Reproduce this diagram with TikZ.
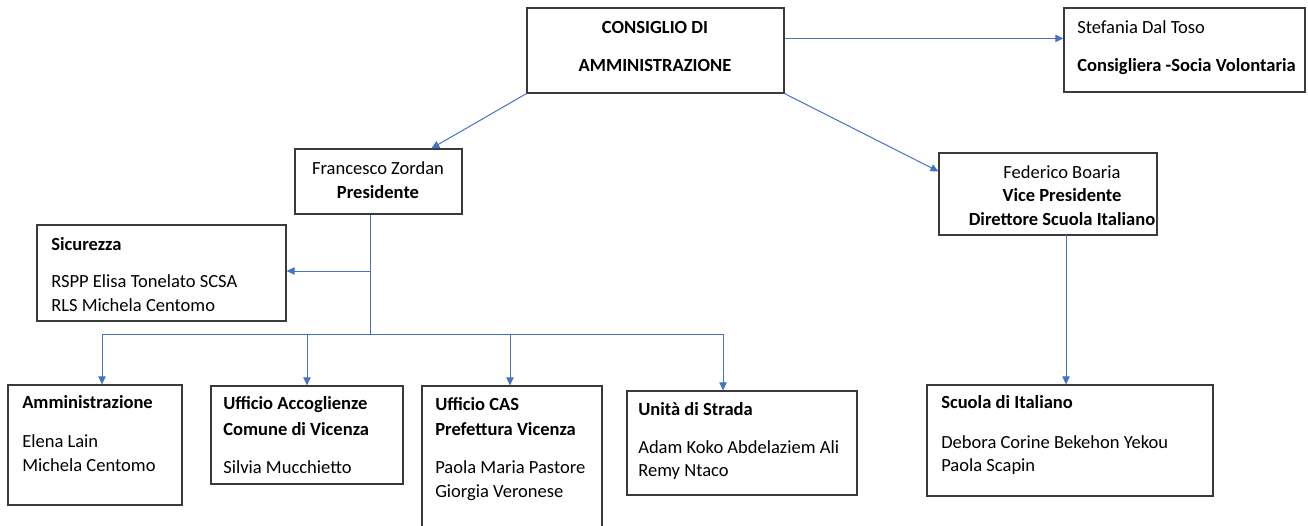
\documentclass[tikz,border=0pt]{standalone}
\usepackage{fontspec}
\setmainfont{Carlito}
\usetikzlibrary{fit,calc,arrows.meta}
\definecolor{conncol}{HTML}{4472C4}
\definecolor{boxcol}{HTML}{3A3A3A}
\begin{document}
\begin{tikzpicture}[x=0.75pt,y=-0.75pt,
  box/.style={draw=boxcol,line width=0.9pt,inner sep=0pt,fill=white},
  tl/.style={anchor=base west,inner sep=0pt,font=\fontsize{13.9pt}{16pt}\selectfont},
  tc/.style={anchor=base,inner sep=0pt,font=\fontsize{13.9pt}{16pt}\selectfont},
  conn/.style={draw=conncol,line width=0.75pt},
  arr/.style={conn,-{Triangle[length=6pt,width=5.5pt]}}]
\useasboundingbox (0,0) rectangle (1308,525);
% boxes
\node[box,fit={(527,8)(784,93)}] (cda) {};
\node[box,fit={(1064,8)(1305,92)}] (sdt) {};
\node[box,fit={(295,149)(462,214)}] (fz) {};
\node[box,fit={(939,153)(1157,235)}] (fb) {};
\node[box,fit={(37,225)(286,321)}] (sic) {};
\node[box,fit={(8,385)(182,505)}] (amm) {};
\node[box,fit={(211,386)(403,484)}] (uac) {};
\node[box,fit={(422,386)(602,530)}] (cas) {};
\node[box,fit={(627,391)(857,495)}] (uds) {};
\node[box,fit={(927,385)(1213,496)}] (sdi) {};
% texts
\node[tc] (cda1) at (655,33) {\textbf{CONSIGLIO DI}};
\node[tc] (cda2) at (655,71) {\textbf{AMMINISTRAZIONE}};
\node[tl] (sdt1) at (1077,33) {Stefania Dal Toso};
\node[tl] (sdt2) at (1077,71) {\textbf{Consigliera -Socia Volontaria}};
\node[tc] (fz1) at (378,174) {Francesco Zordan};
\node[tc] (fz2) at (378,198) {\textbf{Presidente}};
\node[tc] (fb1) at (1062,178) {Federico Boaria};
\node[tc] (fb2) at (1062,201) {\textbf{Vice Presidente}};
\node[tc] (fb3) at (1062,225) {\textbf{Direttore Scuola Italiano}};
\node[tl] (sic1) at (51,250) {\textbf{Sicurezza}};
\node[tl] (sic2) at (51,287) {RSPP Elisa Tonelato SCSA};
\node[tl] (sic3) at (51,311) {RLS Michela Centomo};
\node[tl] (amm1) at (22,408) {\textbf{Amministrazione}};
\node[tl] (amm2) at (22,447) {Elena Lain};
\node[tl] (amm3) at (22,471) {Michela Centomo};
\node[tl] (uac1) at (223,409) {\textbf{Ufficio Accoglienze}};
\node[tl] (uac2) at (223,435) {\textbf{Comune di Vicenza}};
\node[tl] (uac3) at (223,473) {Silvia Mucchietto};
\node[tl] (cas1) at (435,410) {\textbf{Ufficio CAS}};
\node[tl] (cas2) at (435,435) {\textbf{Prefettura Vicenza}};
\node[tl] (cas3) at (435,473) {Paola Maria Pastore};
\node[tl] (cas4) at (435,497) {Giorgia Veronese};
\node[tl] (uds1) at (638,415) {\textbf{Unità di Strada}};
\node[tl] (uds2) at (638,453) {Adam Koko Abdelaziem Ali};
\node[tl] (uds3) at (638,476) {Remy Ntaco};
\node[tl] (sdi1) at (941,408) {\textbf{Scuola di Italiano}};
\node[tl] (sdi2) at (941,448) {Debora Corine Bekehon Yekou};
\node[tl] (sdi3) at (941,471) {Paola Scapin};
% junction coordinates
\coordinate (jsic) at (370,271);
\coordinate (jbus) at (370,334);
\coordinate (bl) at (102,334);
\coordinate (b2) at (307,334);
\coordinate (b3) at (510,334);
\coordinate (br) at (723,334);
\coordinate (fbs) at (1066,235);
% connectors
\draw[arr] ($(cda.north east)+(0,31)$) -- ($(sdt.north west)+(0,31)$);
\draw[arr] (cda.south west) -- ($(fz.north west)+(137,0)$);
\draw[arr] (cda.south east) -- ($(fb.north west)+(0,19)$);
\draw[conn] (fz.south -| jsic) -- (jbus);
\draw[arr] (jsic) -- (jsic -| sic.east);
\draw[conn] (bl) -- (br);
\draw[arr] (bl) -- (bl |- amm.north);
\draw[arr] (b2) -- (b2 |- uac.north);
\draw[arr] (b3) -- (b3 |- cas.north);
\draw[arr] (br) -- (br |- uds.north);
\draw[arr] (fbs) -- (fbs |- sdi.north);
\end{tikzpicture}
\end{document}
